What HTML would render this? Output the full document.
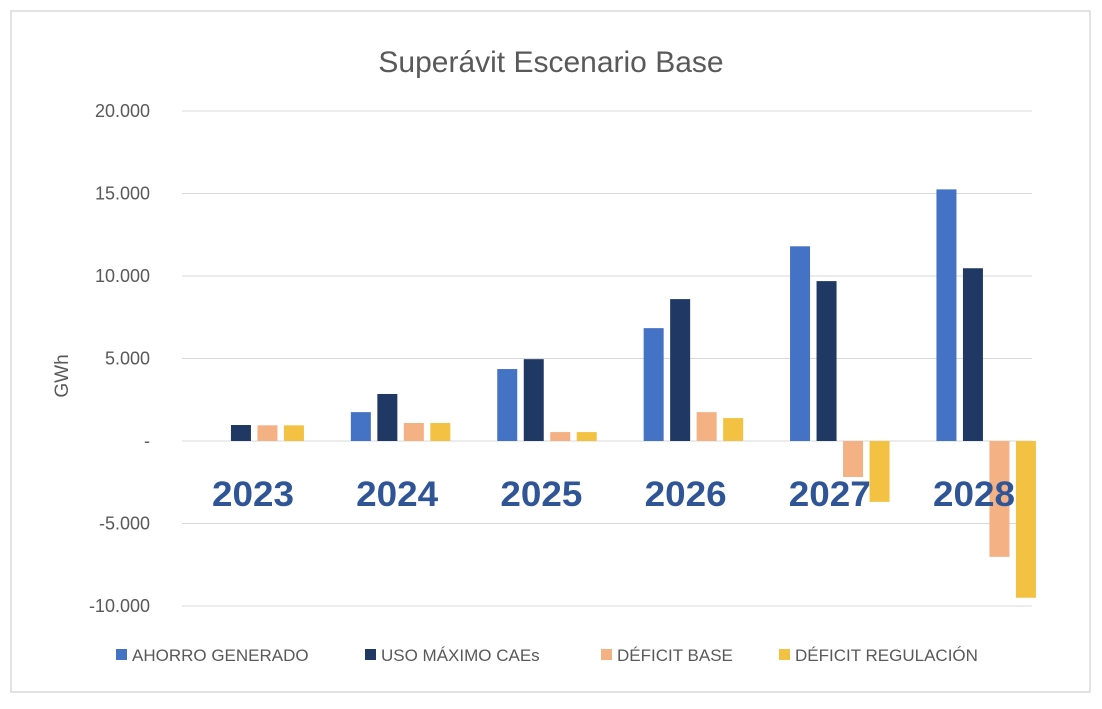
<!DOCTYPE html>
<html><head><meta charset="utf-8"><style>
body{margin:0;background:#fff;font-family:"Liberation Sans",sans-serif;}
svg text{font-family:"Liberation Sans",sans-serif;}
</style></head><body>
<svg id="chart" width="1102" height="704" xmlns="http://www.w3.org/2000/svg">
<rect x="11" y="11" width="1079" height="681" fill="#fff" stroke="#d9d9d9" stroke-width="1.5"/>
<text x="551" y="72" text-anchor="middle" font-size="30" fill="#595959">Superávit Escenario Base</text>
<text transform="translate(68,376) rotate(-90)" text-anchor="middle" font-size="19" fill="#595959">GWh</text>
<g id="grid"></g><g id="bars"></g><g id="labels"></g><g id="legend"></g>
</svg>
<script>
const categories=["2023","2024","2025","2026","2027","2028"];
const seriesNames=["AHORRO GENERADO","USO MÁXIMO CAEs","DÉFICIT BASE","DÉFICIT REGULACIÓN"];
const ahorro=[0,1750,4360,6840,11800,15250];
const usoMaximo=[970,2850,4960,8600,9690,10470];
const deficitBase=[950,1090,540,1750,-2180,-7020];
const deficitRegulacion=[950,1090,540,1390,-3690,-9500];
const ticks=[20000,15000,10000,5000,0,-5000,-10000];
const tickLabels=["20.000","15.000","10.000","5.000","-","-5.000","-10.000"];
const colors=["#4472c4","#203864","#f4b183","#f4c242"];
const NS="http://www.w3.org/2000/svg";
const gx0=182,gx1=1032,x0=181,band=146.4,yTop=111,yBot=606,vMax=20000,vMin=-10000;
const y=v=>yTop+(vMax-v)/(vMax-vMin)*(yBot-yTop);
const xc=i=>x0+band*(i+0.5);
function mk(tag,attrs,parent){const e=document.createElementNS(NS,tag);for(const k in attrs)e.setAttribute(k,attrs[k]);document.getElementById(parent).appendChild(e);return e;}
ticks.forEach((t,i)=>{
 const l=mk('line',{x1:gx0,x2:gx1,y1:y(t),y2:y(t),stroke:'#d9d9d9','stroke-width':1},'grid');
 
 
 const tx=mk('text',{x:150,y:y(t)+6,'text-anchor':'end','font-size':18,fill:'#595959'},'grid');
 tx.textContent=tickLabels[i];
 
 
});
const series=[ahorro,usoMaximo,deficitBase,deficitRegulacion];
const w=20,gap=6.5;
categories.forEach((c,i)=>{
 series.forEach((s,j)=>{
  const v=s[i]; if(!v) return;
  const bx=xc(i)-2*w-1.5*gap+j*(w+gap);
  const r=mk('rect',{x:bx,y:Math.min(y(v),y(0)),width:w,height:Math.abs(y(v)-y(0)),fill:colors[j]},'bars');
  
  
 });
 const t=mk('text',{x:253+i*144.2,y:506,'text-anchor':'middle','font-size':35,'font-weight':'bold',fill:'#2f5597',textLength:82,lengthAdjust:'spacingAndGlyphs'},'labels');
 t.textContent=c;
 
 
});
const lx=[116,365,601,779];
seriesNames.forEach((n,j)=>{
 const r=mk('rect',{x:lx[j],y:649,width:11,height:11,fill:colors[j]},'legend');
 
 
 const t=mk('text',{x:lx[j]+16,y:661,'font-size':17,fill:'#595959'},'legend');
 t.textContent=n;
 
 
});
</script>
</body></html>
